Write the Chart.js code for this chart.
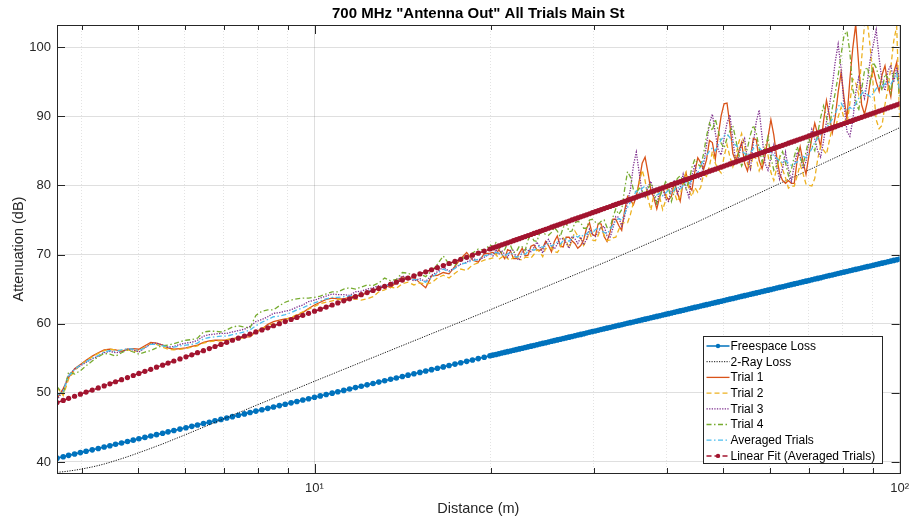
<!DOCTYPE html>
<html>
<head>
<meta charset="utf-8">
<title>700 MHz Antenna Out - Main St</title>
<script src="https://cdn.jsdelivr.net/npm/chart.js@4.4.1/dist/chart.umd.min.js"></script>
<style>
  html, body { margin: 0; padding: 0; background: #fff; }
  #wrap { width: 917px; height: 523px; position: relative; }
</style>
</head>
<body>
<div id="wrap"><canvas id="lossChart"></canvas></div>
<script>
// Distance grid (m), shared by every series
const distance = [
  3.63, 3.72, 3.80, 3.89, 3.98, 4.07, 4.17, 4.27, 4.37, 4.47,
  4.57, 4.68, 4.79, 4.90, 5.01, 5.13, 5.25, 5.37, 5.50, 5.62,
  5.75, 5.89, 6.03, 6.17, 6.31, 6.46, 6.61, 6.76, 6.92, 7.08,
  7.24, 7.41, 7.59, 7.76, 7.94, 8.13, 8.32, 8.51, 8.71, 8.91,
  9.12, 9.33, 9.55, 9.77, 10.00, 10.23, 10.47, 10.72, 10.96, 11.22,
  11.48, 11.75, 12.02, 12.30, 12.59, 12.88, 13.18, 13.49, 13.80, 14.13,
  14.45, 14.79, 15.14, 15.49, 15.85, 16.22, 16.60, 16.98, 17.38, 17.78,
  18.20, 18.62, 19.05, 19.50, 19.95,
  20.18, 20.42, 20.65, 20.89, 21.14, 21.38, 21.63, 21.88, 22.13, 22.39,
  22.65, 22.91, 23.17, 23.44, 23.71, 23.99, 24.27, 24.55, 24.83, 25.12,
  25.41, 25.70, 26.00, 26.30, 26.61, 26.92, 27.23, 27.54, 27.86, 28.18,
  28.51, 28.84, 29.17, 29.51, 29.85, 30.20, 30.55, 30.90, 31.26, 31.62,
  31.99, 32.36, 32.73, 33.11, 33.50, 33.88, 34.28, 34.67, 35.08, 35.48,
  35.89, 36.31, 36.73, 37.15, 37.58, 38.02, 38.46, 38.90, 39.36, 39.81,
  40.27, 40.74, 41.21, 41.69, 42.17, 42.66, 43.15, 43.65, 44.16, 44.67,
  45.19, 45.71, 46.24, 46.77, 47.32, 47.86, 48.42, 48.98, 49.55, 50.12,
  50.70, 51.29, 51.88, 52.48, 53.09, 53.70, 54.33, 54.95, 55.59, 56.23,
  56.89, 57.54, 58.21, 58.88, 59.57, 60.26, 60.95, 61.66, 62.37, 63.10,
  63.83, 64.57, 65.31, 66.07, 66.83, 67.61, 68.39, 69.18, 69.98, 70.79,
  71.61, 72.44, 73.28, 74.13, 74.99, 75.86, 76.74, 77.62, 78.52, 79.43,
  80.35, 81.28, 82.22, 83.18, 84.14, 85.11, 86.10, 87.10, 88.10, 89.13,
  90.16, 91.20, 92.26, 93.33, 94.41, 95.50, 96.61, 97.72, 98.86, 100.00
];

// Freespace model (dB)
const freespaceLoss = [
  40.55, 40.75, 40.95, 41.15, 41.35, 41.55, 41.75, 41.95, 42.15, 42.35,
  42.55, 42.75, 42.95, 43.15, 43.35, 43.55, 43.75, 43.95, 44.15, 44.35,
  44.55, 44.75, 44.95, 45.15, 45.35, 45.55, 45.75, 45.95, 46.15, 46.35,
  46.55, 46.75, 46.95, 47.15, 47.35, 47.55, 47.75, 47.95, 48.15, 48.35,
  48.55, 48.75, 48.95, 49.15, 49.35, 49.55, 49.75, 49.95, 50.15, 50.35,
  50.55, 50.75, 50.95, 51.15, 51.35, 51.55, 51.75, 51.95, 52.15, 52.35,
  52.55, 52.75, 52.95, 53.15, 53.35, 53.55, 53.75, 53.95, 54.15, 54.35,
  54.55, 54.75, 54.95, 55.15, 55.35,
  55.45, 55.55, 55.65, 55.75, 55.85, 55.95, 56.05, 56.15, 56.25, 56.35,
  56.45, 56.55, 56.65, 56.75, 56.85, 56.95, 57.05, 57.15, 57.25, 57.35,
  57.45, 57.55, 57.65, 57.75, 57.85, 57.95, 58.05, 58.15, 58.25, 58.35,
  58.45, 58.55, 58.65, 58.75, 58.85, 58.95, 59.05, 59.15, 59.25, 59.35,
  59.45, 59.55, 59.65, 59.75, 59.85, 59.95, 60.05, 60.15, 60.25, 60.35,
  60.45, 60.55, 60.65, 60.75, 60.85, 60.95, 61.05, 61.15, 61.25, 61.35,
  61.45, 61.55, 61.65, 61.75, 61.85, 61.95, 62.05, 62.15, 62.25, 62.35,
  62.45, 62.55, 62.65, 62.75, 62.85, 62.95, 63.05, 63.15, 63.25, 63.35,
  63.45, 63.55, 63.65, 63.75, 63.85, 63.95, 64.05, 64.15, 64.25, 64.35,
  64.45, 64.55, 64.65, 64.75, 64.85, 64.95, 65.05, 65.15, 65.25, 65.35,
  65.45, 65.55, 65.65, 65.75, 65.85, 65.95, 66.05, 66.15, 66.25, 66.35,
  66.45, 66.55, 66.65, 66.75, 66.85, 66.95, 67.05, 67.15, 67.25, 67.35,
  67.45, 67.55, 67.65, 67.75, 67.85, 67.95, 68.05, 68.15, 68.25, 68.35,
  68.45, 68.55, 68.65, 68.75, 68.85, 68.95, 69.05, 69.15, 69.25, 69.35
];

// Two-ray ground reflection model (dB)
const twoRayLoss = [
  38.5, 38.58, 38.68, 38.8, 38.94, 39.1, 39.28, 39.48, 39.7, 39.94,
  40.2, 40.47, 40.75, 41.04, 41.34, 41.65, 41.96, 42.28, 42.6, 42.92,
  43.27, 43.62, 43.97, 44.32, 44.67, 45.02, 45.37, 45.72, 46.07, 46.42,
  46.77, 47.12, 47.47, 47.82, 48.17, 48.52, 48.87, 49.22, 49.57, 49.92,
  50.27, 50.62, 50.97, 51.32, 51.67, 52.01, 52.36, 52.70, 53.05, 53.39,
  53.73, 54.08, 54.42, 54.77, 55.11, 55.45, 55.80, 56.14, 56.49, 56.83,
  57.17, 57.52, 57.86, 58.21, 58.55, 58.89, 59.24, 59.58, 59.93, 60.27,
  60.61, 60.96, 61.30, 61.65, 61.99,
  62.18, 62.35, 62.53, 62.7, 62.88, 63.05, 63.23, 63.4, 63.58, 63.75,
  63.93, 64.1, 64.28, 64.45, 64.63, 64.8, 64.98, 65.15, 65.33, 65.5,
  65.68, 65.85, 66.03, 66.2, 66.38, 66.55, 66.73, 66.9, 67.08, 67.25,
  67.43, 67.6, 67.78, 67.95, 68.13, 68.3, 68.48, 68.65, 68.83, 69.0,
  69.19, 69.37, 69.56, 69.74, 69.93, 70.11, 70.3, 70.48, 70.67, 70.85,
  71.04, 71.22, 71.41, 71.59, 71.78, 71.96, 72.15, 72.33, 72.52, 72.7,
  72.89, 73.07, 73.26, 73.44, 73.63, 73.81, 74.0, 74.18, 74.37, 74.55,
  74.75, 74.94, 75.14, 75.34, 75.54, 75.73, 75.93, 76.13, 76.32, 76.52,
  76.72, 76.91, 77.11, 77.31, 77.51, 77.7, 77.9, 78.1, 78.29, 78.49,
  78.69, 78.88, 79.08, 79.28, 79.48, 79.67, 79.87, 80.07, 80.26, 80.46,
  80.66, 80.85, 81.05, 81.25, 81.45, 81.64, 81.84, 82.04, 82.23, 82.43,
  82.63, 82.82, 83.02, 83.22, 83.42, 83.61, 83.81, 84.01, 84.2, 84.4,
  84.6, 84.79, 84.99, 85.19, 85.39, 85.58, 85.78, 85.98, 86.17, 86.37,
  86.57, 86.76, 86.96, 87.16, 87.36, 87.55, 87.75, 87.95, 88.14, 88.34
];

// Measured attenuation per trial (dB)
const trial1 = [
  49.2, 50.6, 52.2, 53.5, 54.1, 54.7, 55.3, 55.8, 56.2, 56.3,
  56.2, 56.0, 56.3, 56.4, 56.3, 56.8, 57.3, 57.2, 56.9, 56.5,
  56.3, 56.4, 56.5, 56.7, 56.9, 57.3, 57.5, 57.6, 57.6, 57.6,
  57.8, 58.0, 58.1, 58.1, 58.9, 59.2, 59.9, 60.3, 60.5, 60.7,
  60.8, 61.2, 61.6, 62.2, 62.7, 63.1, 63.5, 63.7, 63.6, 63.6,
  63.8, 64.1, 64.0, 64.6, 64.9, 65.0, 65.6, 65.2, 66.0, 66.8,
  66.5, 66.7, 65.9, 65.2, 66.9, 67.0, 67.4, 67.2, 68.3, 69.4,
  70.3, 69.2, 68.9, 70.1, 70.2,
  70.3, 70.0, 70.7, 70.1, 69.4, 70.7, 70.5, 69.4, 69.4, 70.2,
  70.9, 69.8, 69.9, 71.2, 71.4, 70.7, 70.6, 70.9, 71.9, 71.3,
  70.4, 71.9, 72.7, 71.2, 71.1, 72.5, 72.5, 72.0, 71.6, 70.9,
  71.3, 72.1, 73.8, 74.6, 72.9, 72.7, 74.5, 74.4, 72.6, 71.9,
  73.2, 75.1, 75.1, 74.2, 73.5, 76.3, 78.4, 77.9, 77.2, 78.4,
  80.6, 83.2, 84.1, 81.8, 79.3, 78.2, 76.6, 78.3, 79.7, 78.6,
  77.9, 78.4, 80.4, 79.0, 77.7, 80.5, 81.8, 79.9, 79.3, 82.0,
  84.0, 83.3, 82.3, 83.7, 86.5, 86.2, 83.8, 87.2, 90.1, 91.8,
  91.9, 88.7, 84.6, 83.5, 84.9, 86.2, 83.2, 82.1, 84.1, 86.8,
  86.6, 83.6, 82.4, 84.2, 86.9, 89.5, 87.3, 84.1, 81.7, 80.7,
  80.3, 80.7, 80.3, 80.3, 83.7, 85.6, 83.4, 81.6, 84.3, 86.9,
  89.0, 87.4, 85.6, 89.3, 92.3, 90.1, 87.6, 89.9, 93.5, 96.3,
  92.7, 89.6, 95.3, 99.9, 103.3, 97.6, 91.7, 90.3, 92.1, 95.2,
  96.8, 95.0, 93.6, 96.0, 97.3, 94.6, 92.8, 96.3, 97.8, 93.3
];

const trial2 = [
  50.8, 49.6, 52.0, 53.2, 54.0, 54.6, 55.2, 55.7, 56.1, 56.3,
  56.2, 56.1, 56.2, 56.0, 56.1, 56.6, 57.1, 57.0, 56.6, 56.3,
  56.2, 56.3, 56.4, 56.6, 56.8, 57.2, 57.4, 57.5, 57.5, 57.7,
  57.9, 57.8, 58.0, 58.2, 58.7, 59.3, 59.7, 60.0, 60.3, 60.6,
  60.9, 61.3, 61.7, 62.1, 62.5, 62.9, 63.1, 63.3, 63.5, 63.4,
  63.5, 63.6, 63.4, 63.6, 63.9, 64.6, 64.9, 65.3, 65.1, 65.8,
  66.0, 65.6, 65.9, 65.7, 65.9, 66.6, 67.0, 66.6, 67.3, 67.9,
  67.7, 68.5, 68.8, 69.2, 69.4,
  69.5, 70.1, 69.3, 69.6, 69.9, 69.4, 69.2, 69.6, 69.8, 69.3,
  69.2, 69.6, 69.6, 69.5, 70.0, 70.7, 70.4, 69.7, 70.9, 70.8,
  71.0, 70.4, 70.3, 70.9, 72.4, 72.0, 70.9, 72.0, 73.4, 72.7,
  72.4, 71.3, 72.1, 73.2, 72.1, 72.0, 72.8, 74.0, 72.8, 72.0,
  72.1, 72.4, 72.5, 73.6, 74.5, 74.6, 74.6, 75.8, 77.5, 78.6,
  80.3, 82.2, 80.7, 78.1, 76.4, 78.7, 79.6, 78.3, 76.5, 77.8,
  80.2, 80.4, 78.9, 77.7, 78.4, 80.8, 81.9, 79.3, 78.4, 79.7,
  79.0, 79.7, 81.6, 81.3, 82.8, 84.9, 83.2, 82.3, 81.8, 84.2,
  85.9, 84.1, 82.7, 84.2, 86.2, 87.5, 85.6, 83.1, 82.3, 84.5,
  83.8, 82.1, 83.2, 85.4, 84.4, 81.9, 80.7, 82.5, 84.1, 82.3,
  81.1, 79.6, 79.9, 79.9, 81.4, 83.0, 81.7, 80.2, 80.0, 79.9,
  81.0, 83.8, 85.7, 85.1, 84.5, 86.5, 88.4, 88.2, 89.9, 91.3,
  89.7, 88.8, 91.9, 95.4, 94.8, 93.2, 98.2, 103.3, 103.6, 99.8,
  94.3, 89.5, 88.2, 88.7, 91.7, 94.0, 97.1, 100.9, 103.0, 89.8
];

const trial3 = [
  48.9, 50.4, 52.6, 53.4, 53.9, 54.4, 54.9, 55.3, 55.8, 56.0,
  55.8, 55.9, 56.3, 56.2, 55.9, 56.5, 57.1, 57.2, 56.9, 56.6,
  56.7, 57.0, 57.2, 57.3, 57.6, 58.2, 58.4, 58.5, 58.6, 58.6,
  58.8, 59.0, 59.2, 59.6, 60.3, 60.6, 61.0, 61.5, 61.6, 61.8,
  62.0, 62.4, 62.7, 63.2, 63.4, 63.7, 64.0, 64.3, 64.2, 64.2,
  64.1, 64.6, 64.7, 65.0, 65.2, 65.5, 65.3, 65.9, 66.2, 66.9,
  66.6, 66.2, 66.5, 66.1, 67.0, 67.5, 68.2, 67.6, 68.1, 68.6,
  68.9, 69.4, 69.2, 69.6, 70.1,
  69.8, 70.7, 70.0, 70.6, 70.0, 69.6, 70.6, 70.6, 69.5, 69.2,
  70.4, 70.8, 70.6, 70.4, 71.0, 71.8, 71.1, 70.2, 71.7, 72.2,
  71.3, 70.8, 71.5, 72.3, 72.3, 71.7, 70.9, 72.6, 72.3, 71.6,
  72.5, 71.4, 72.2, 73.7, 72.9, 72.6, 73.3, 73.9, 74.1, 72.7,
  72.4, 73.8, 75.5, 75.4, 74.1, 75.5, 77.7, 79.4, 82.9, 84.8,
  81.8, 78.8, 78.3, 79.8, 80.6, 78.6, 77.2, 79.3, 79.7, 78.0,
  77.7, 79.4, 80.8, 78.8, 79.7, 81.6, 79.6, 78.3, 81.4, 83.0,
  81.2, 80.9, 83.1, 85.8, 89.0, 90.3, 87.6, 85.1, 84.4, 86.8,
  89.0, 90.2, 86.6, 83.3, 84.2, 85.9, 86.8, 83.7, 82.4, 86.1,
  89.2, 90.9, 87.0, 83.2, 82.2, 84.1, 85.8, 82.6, 80.9, 82.5,
  84.8, 82.3, 80.6, 82.9, 84.8, 84.1, 82.4, 83.4, 86.2, 88.1,
  86.7, 85.0, 84.1, 86.4, 89.2, 91.5, 94.4, 97.9, 100.4, 96.9,
  91.7, 87.8, 87.1, 89.4, 93.4, 95.6, 94.0, 92.6, 95.1, 98.3,
  100.3, 102.5, 98.4, 95.0, 93.7, 96.5, 97.4, 94.9, 97.1, 95.4
];

const trial4 = [
  50.9, 49.8, 53.0, 52.7, 53.2, 53.9, 54.6, 55.2, 55.7, 55.6,
  55.3, 55.8, 56.2, 55.9, 55.6, 55.9, 56.1, 56.5, 56.8, 56.9,
  57.1, 57.4, 57.6, 57.7, 57.9, 58.8, 58.9, 58.9, 58.8, 59.1,
  59.5, 59.7, 59.5, 59.4, 61.2, 61.8, 62.0, 62.0, 62.6, 63.1,
  63.4, 63.6, 63.7, 63.7, 63.8, 64.0, 64.3, 64.6, 64.6, 65.0,
  65.2, 65.0, 65.3, 65.6, 65.5, 65.9, 66.6, 66.2, 66.4, 67.4,
  67.3, 66.9, 67.2, 66.8, 67.6, 68.6, 69.8, 68.6, 68.4, 69.6,
  69.4, 70.2, 70.8, 70.6, 71.4,
  71.1, 71.7, 71.0, 70.3, 70.7, 71.6, 71.3, 70.3, 70.4, 71.2,
  71.1, 70.6, 72.1, 72.9, 72.0, 71.9, 73.1, 73.2, 72.9, 72.8,
  73.2, 73.9, 73.4, 72.6, 73.9, 74.6, 73.3, 73.4, 74.6, 74.8,
  74.6, 73.8, 73.8, 75.0, 75.1, 74.7, 74.4, 74.8, 75.0, 73.9,
  73.8, 75.4, 76.6, 75.8, 76.5, 79.4, 82.0, 81.2, 79.4, 78.9,
  79.6, 79.2, 78.4, 79.5, 80.3, 79.5, 77.4, 78.4, 79.4, 80.5,
  79.7, 77.7, 79.1, 81.0, 81.4, 80.6, 79.5, 80.6, 82.6, 83.8,
  83.1, 82.7, 84.6, 87.1, 89.0, 87.9, 89.6, 87.9, 86.1, 85.4,
  86.8, 87.9, 88.6, 86.7, 84.4, 82.8, 83.8, 85.4, 87.3, 88.7,
  87.6, 85.3, 83.4, 85.4, 87.0, 84.1, 82.2, 82.9, 84.0, 84.9,
  83.3, 81.4, 82.3, 84.2, 85.6, 84.2, 82.9, 84.8, 86.7, 85.8,
  85.0, 87.5, 89.8, 91.5, 89.8, 88.1, 91.2, 93.4, 95.9, 98.9,
  101.7, 102.3, 99.3, 93.9, 92.3, 90.8, 93.8, 96.6, 97.1, 95.0,
  97.8, 97.0, 95.6, 93.7, 96.1, 95.5, 93.4, 96.2, 96.4, 92.8
];

const averagedTrials = [
  49.6, 50.3, 52.4, 53.4, 54.0, 54.5, 55.0, 55.4, 55.9, 56.1,
  56.0, 56.2, 56.4, 56.3, 56.1, 56.5, 57.0, 57.0, 56.8, 56.6,
  56.6, 56.8, 56.9, 57.0, 57.2, 57.8, 58.0, 58.1, 58.2, 58.2,
  58.4, 58.6, 58.8, 59.1, 59.7, 60.2, 60.6, 61.0, 61.1, 61.3,
  61.6, 62.0, 62.3, 62.7, 63.0, 63.3, 63.6, 63.8, 63.8, 63.9,
  64.0, 64.2, 64.3, 64.7, 64.8, 65.3, 65.4, 65.7, 66.0, 66.5,
  66.6, 66.4, 66.3, 66.0, 66.7, 67.3, 67.9, 67.5, 68.0, 68.6,
  68.8, 69.1, 69.3, 69.8, 70.0,
  70.1, 70.3, 70.2, 70.0, 69.8, 70.1, 70.3, 69.9, 69.6, 69.8,
  70.2, 70.0, 70.5, 70.9, 70.6, 70.9, 71.3, 71.0, 71.4, 71.6,
  71.2, 71.5, 71.8, 71.5, 72.0, 72.3, 71.9, 72.4, 72.8, 72.5,
  72.9, 72.6, 73.0, 73.4, 73.1, 73.6, 73.9, 73.5, 73.2, 73.0,
  73.6, 74.3, 74.9, 75.2, 75.0, 75.9, 76.8, 77.6, 78.4, 79.2,
  78.8, 79.6, 79.9, 79.3, 78.9, 79.2, 78.6, 78.9, 78.5, 78.9,
  79.3, 78.8, 79.4, 79.8, 79.4, 80.0, 80.4, 80.2, 80.8, 81.2,
  81.8, 82.9, 83.6, 84.3, 85.0, 85.4, 85.0, 85.9, 86.6, 87.2,
  87.4, 86.9, 86.2, 85.8, 85.4, 85.0, 84.6, 84.3, 84.7, 85.3,
  85.8, 85.5, 85.0, 84.6, 85.0, 84.7, 84.3, 83.9, 83.5, 83.3,
  83.6, 83.2, 82.9, 83.1, 83.4, 83.8, 84.2, 84.0, 84.6, 85.3,
  86.2, 86.8, 87.3, 87.9, 88.4, 88.9, 89.6, 90.4, 91.4, 91.9,
  91.2, 90.8, 91.3, 90.9, 91.8, 92.6, 93.2, 93.8, 93.1, 92.8,
  93.3, 94.0, 94.4, 94.2, 94.7, 95.0, 94.6, 95.4, 96.2, 93.8
];

// Least-squares fit of the averaged trials against log distance (dB)
const linearFit = [
  48.6, 48.9, 49.2, 49.5, 49.8, 50.1, 50.4, 50.7, 51.0, 51.3,
  51.6, 51.9, 52.2, 52.5, 52.8, 53.1, 53.4, 53.7, 54.0, 54.3,
  54.6, 54.9, 55.2, 55.5, 55.8, 56.1, 56.4, 56.7, 57.0, 57.3,
  57.6, 57.9, 58.2, 58.5, 58.8, 59.1, 59.4, 59.7, 60.0, 60.3,
  60.6, 60.9, 61.2, 61.5, 61.8, 62.1, 62.4, 62.7, 63.0, 63.3,
  63.6, 63.9, 64.2, 64.5, 64.8, 65.1, 65.4, 65.7, 66.0, 66.3,
  66.6, 66.9, 67.2, 67.5, 67.8, 68.1, 68.4, 68.7, 69.0, 69.3,
  69.6, 69.9, 70.2, 70.5, 70.8,
  70.95, 71.1, 71.25, 71.4, 71.55, 71.7, 71.85, 72.0, 72.15, 72.3,
  72.45, 72.6, 72.75, 72.9, 73.05, 73.2, 73.35, 73.5, 73.65, 73.8,
  73.95, 74.1, 74.25, 74.4, 74.55, 74.7, 74.85, 75.0, 75.15, 75.3,
  75.45, 75.6, 75.75, 75.9, 76.05, 76.2, 76.35, 76.5, 76.65, 76.8,
  76.95, 77.1, 77.25, 77.4, 77.55, 77.7, 77.85, 78.0, 78.15, 78.3,
  78.45, 78.6, 78.75, 78.9, 79.05, 79.2, 79.35, 79.5, 79.65, 79.8,
  79.95, 80.1, 80.25, 80.4, 80.55, 80.7, 80.85, 81.0, 81.15, 81.3,
  81.45, 81.6, 81.75, 81.9, 82.05, 82.2, 82.35, 82.5, 82.65, 82.8,
  82.95, 83.1, 83.25, 83.4, 83.55, 83.7, 83.85, 84.0, 84.15, 84.3,
  84.45, 84.6, 84.75, 84.9, 85.05, 85.2, 85.35, 85.5, 85.65, 85.8,
  85.95, 86.1, 86.25, 86.4, 86.55, 86.7, 86.85, 87.0, 87.15, 87.3,
  87.45, 87.6, 87.75, 87.9, 88.05, 88.2, 88.35, 88.5, 88.65, 88.8,
  88.95, 89.1, 89.25, 89.4, 89.55, 89.7, 89.85, 90.0, 90.15, 90.3,
  90.45, 90.6, 90.75, 90.9, 91.05, 91.2, 91.35, 91.5, 91.65, 91.8
];

const xTicks = [4, 5, 6, 7, 8, 9, 10, 20, 30, 40, 50, 60, 70, 80, 90, 100];
const yTicks = [40, 50, 60, 70, 80, 90, 100];

const FONT = "'Liberation Sans', Arial, Helvetica, sans-serif";
const AXIS_INK = '#262626';

const pts = ys => distance.map((d, i) => ({ x: d, y: ys[i] }));

function series(label, ys, color, dash, width, radius, order) {
  return {
    label: label,
    data: pts(ys),
    borderColor: color,
    backgroundColor: color,
    borderDash: dash,
    borderWidth: width,
    pointRadius: radius,
    pointBorderWidth: 0,
    pointBackgroundColor: color,
    tension: 0,
    fill: false,
    order: order
  };
}

// box, inward ticks and the legend panel
const frameAndLegend = {
  id: 'frameAndLegend',
  afterDraw(chart) {
    const { ctx, chartArea: a, scales } = chart;
    const x = scales.x, y = scales.y;
    ctx.save();
    ctx.strokeStyle = AXIS_INK;
    ctx.lineWidth = 1;
    ctx.setLineDash([]);
    ctx.beginPath();
    xTicks.forEach(v => {
      const px = Math.round(x.getPixelForValue(v)) + 0.5;
      const len = (v === 10 || v === 100) ? 9 : 5;
      ctx.moveTo(px, a.bottom); ctx.lineTo(px, a.bottom - len);
      ctx.moveTo(px, a.top); ctx.lineTo(px, a.top + len);
    });
    yTicks.forEach(v => {
      const py = Math.round(y.getPixelForValue(v)) + 0.5;
      ctx.moveTo(a.left, py); ctx.lineTo(a.left + 8, py);
      ctx.moveTo(a.right, py); ctx.lineTo(a.right - 8, py);
    });
    ctx.stroke();
    ctx.strokeRect(Math.round(a.left) + 0.5, Math.round(a.top) + 0.5,
      Math.round(a.right - a.left), Math.round(a.bottom - a.top));

    // legend
    const lw = 179, lh = 127;
    const lx = Math.round(a.right - 18 - lw) + 0.5;
    const ly = Math.round(a.bottom - 10 - lh) + 0.5;
    ctx.fillStyle = '#fff';
    ctx.fillRect(lx, ly, lw, lh);
    ctx.strokeStyle = AXIS_INK;
    ctx.lineWidth = 1;
    ctx.strokeRect(lx, ly, lw, lh);
    ctx.font = '12px ' + FONT;
    ctx.textBaseline = 'middle';
    ctx.textAlign = 'left';
    chart.data.datasets.forEach((ds, i) => {
      const cy = ly + 9.5 + i * 15.7;
      ctx.strokeStyle = ds.borderColor;
      ctx.lineWidth = Math.min(ds.borderWidth, 1.5);
      ctx.setLineDash(ds.borderDash || []);
      ctx.beginPath();
      ctx.moveTo(lx + 3, cy);
      ctx.lineTo(lx + 26, cy);
      ctx.stroke();
      ctx.setLineDash([]);
      if (ds.pointRadius > 0) {
        ctx.fillStyle = ds.borderColor;
        ctx.beginPath();
        ctx.arc(lx + 14.5, cy, 2.2, 0, Math.PI * 2);
        ctx.fill();
      }
      ctx.fillStyle = '#000';
      ctx.fillText(ds.label, lx + 27, cy + 0.5);
    });
    ctx.restore();
  }
};

const ctx = document.getElementById('lossChart').getContext('2d');
const lossChart = new Chart(ctx, {
  type: 'line',
  data: {
    datasets: [
      series('Freespace Loss', freespaceLoss, '#0072BD', [], 1.6, 2.8, 7),
      series('2-Ray Loss', twoRayLoss, '#111111', [1.2, 1.3], 1, 0, 6),
      series('Trial 1', trial1, '#D95319', [], 1.3, 0, 5),
      series('Trial 2', trial2, '#EDB120', [5, 3], 1.3, 0, 4),
      series('Trial 3', trial3, '#7E2F8E', [1.3, 1.3], 1.3, 0, 3),
      series('Trial 4', trial4, '#77AC30', [5, 2.5, 1.5, 2.5], 1.3, 0, 2),
      series('Averaged Trials', averagedTrials, '#4DBEEE', [5, 2.5, 1.5, 2.5], 1.3, 0, 1),
      series('Linear Fit (Averaged Trials)', linearFit, '#A2142F', [5, 3], 1.6, 2.6, 0)
    ]
  },
  options: {
    responsive: true,
    maintainAspectRatio: false,
    animation: false,
    events: [],
    layout: { padding: { top: 0, right: 12, bottom: 0, left: 0 } },
    plugins: {
      legend: { display: false },
      tooltip: { enabled: false },
      title: {
        display: true,
        fullSize: false,
        text: '700 MHz "Antenna Out" All Trials Main St',
        color: '#000',
        font: { family: FONT, size: 15, weight: 'bold' },
        padding: { top: 5, bottom: 2 }
      }
    },
    scales: {
      x: {
        type: 'logarithmic',
        min: 3.63,
        max: 100,
        afterBuildTicks: scale => { scale.ticks = xTicks.map(v => ({ value: v })); },
        afterFit: scale => { scale.height = 50; },
        ticks: {
          autoSkip: false,
          maxRotation: 0,
          minRotation: 0,
          padding: 8,
          color: AXIS_INK,
          font: { family: FONT, size: 13 },
          callback: v => v === 10 ? '10\u00B9' : (v === 100 ? '10\u00B2' : '')
        },
        grid: {
          drawTicks: false,
          color: c => (c.tick && (c.tick.value === 10 || c.tick.value === 100))
            ? 'rgba(38,38,38,0.15)' : 'rgba(38,38,38,0.13)'
        },
        border: {
          display: false,
          dash: c => (c.tick && c.tick.value !== 10 && c.tick.value !== 100) ? [1, 2] : []
        },
        title: {
          display: true,
          text: 'Distance (m)',
          color: AXIS_INK,
          font: { family: FONT, size: 14.5 },
          padding: { top: 0, bottom: 5 }
        }
      },
      y: {
        min: 38.4,
        max: 103.2,
        afterBuildTicks: scale => { scale.ticks = yTicks.map(v => ({ value: v })); },
        afterFit: scale => { scale.width = 57; },
        ticks: {
          padding: 6,
          color: AXIS_INK,
          font: { family: FONT, size: 13 }
        },
        grid: {
          drawTicks: false,
          color: 'rgba(38,38,38,0.15)'
        },
        border: { display: false },
        title: {
          display: true,
          text: 'Attenuation (dB)',
          color: AXIS_INK,
          font: { family: FONT, size: 14.5 },
          padding: { top: 10, bottom: 0 }
        }
      }
    }
  },
  plugins: [frameAndLegend]
});
</script>
</body>
</html>
